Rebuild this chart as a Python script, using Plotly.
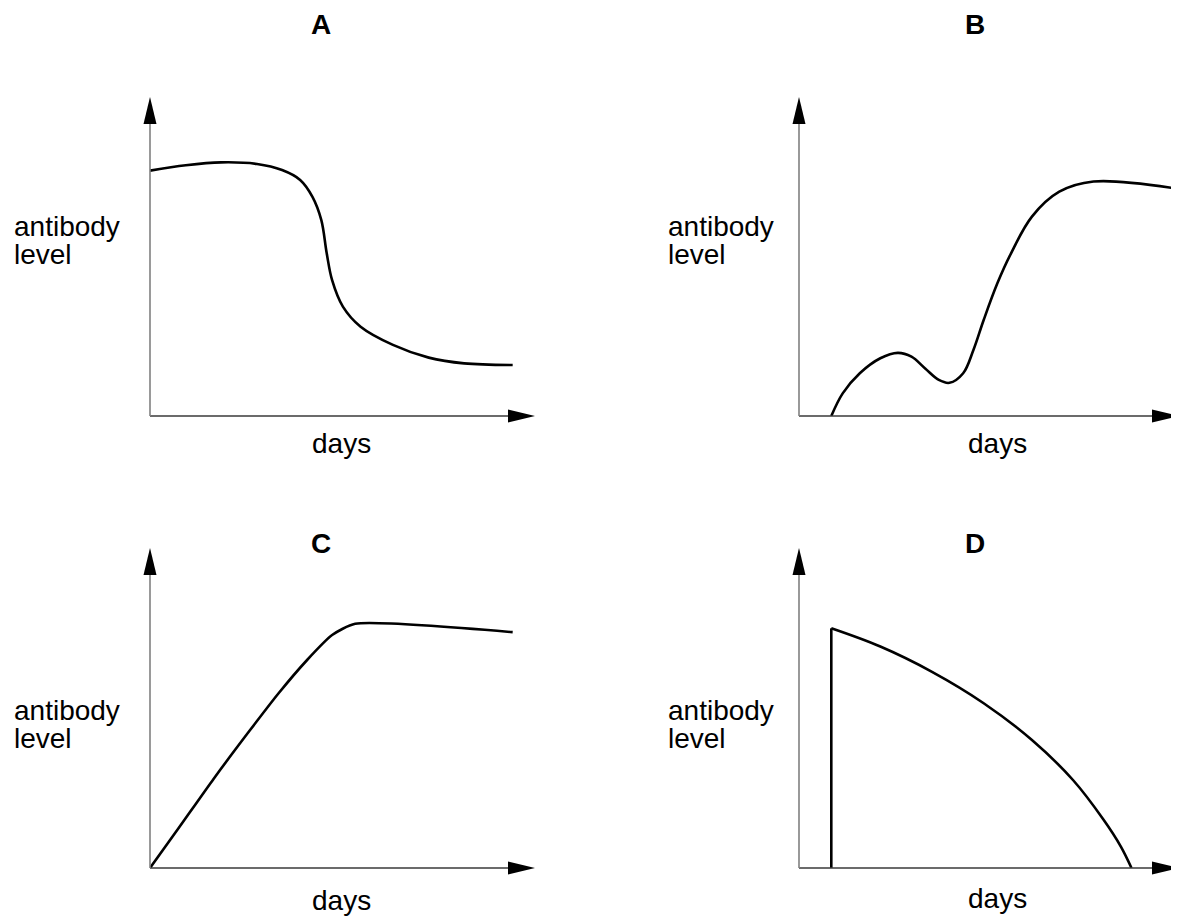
import plotly.graph_objects as go

# The page body adds an 8px margin, so the figure is sized to fill the rest of the window
# and every pixel anchor below is given in window pixels, then shifted by that margin.
PAGE_OFFSET = 8
FIG_W, FIG_H = 1179 - PAGE_OFFSET, 916 - PAGE_OFFSET
FONT = "Liberation Sans, Arial, Helvetica, sans-serif"

# Arbitrary units: days run 0-10 up to the x arrow tip, level 0-10 up to the y arrow tip.
A_DAYS = [0, 0.93, 1.85, 2.78, 3.43, 3.90, 4.22, 4.45, 4.59, 4.73, 5.01, 5.47, 6.31, 7.24, 8.16, 9.42]
A_LEVEL = [7.69, 7.86, 7.95, 7.90, 7.71, 7.40, 6.87, 6.14, 5.10, 4.26, 3.43, 2.80, 2.23, 1.83, 1.65, 1.60]

B_DAYS = [0.85, 1.15, 1.60, 2.14, 2.60, 2.96, 3.32, 3.68, 3.96, 4.32, 4.59, 4.86, 5.22, 5.58, 6.13, 6.85, 7.75, 9.88]
B_LEVEL = [0, 0.71, 1.34, 1.81, 1.98, 1.86, 1.49, 1.13, 1.04, 1.34, 2.07, 3.01, 4.16, 5.10, 6.25, 7.03, 7.35, 7.14]

C_DAYS = [0, 0.74, 1.66, 2.60, 3.34, 4.08, 4.73, 5.33, 9.42]
C_LEVEL = [0, 1.24, 2.80, 4.31, 5.46, 6.50, 7.28, 7.63, 7.37]

D_DAYS = [0.85, 2.14, 3.50, 4.86, 6.13, 7.21, 8.02, 8.47, 8.75]
D_LEVEL = [7.49, 6.92, 6.13, 5.15, 4.00, 2.75, 1.50, 0.67, 0]

PANEL_NAMES = ["A", "B", "C", "D"]
X_LABEL = "days"
Y_LABEL_LINES = ["antibody", "level"]

# window-pixel frame of each panel: x origin, x arrow tip, y arrow tip, y origin
_FRAMES = {
    "A": (150, 535, 97, 416),
    "B": (799, 1179, 97, 416),
    "C": (150, 535, 548, 868),
    "D": (799, 1179, 548, 868),
}
# window-pixel anchors: title centre, "days" centre, label left edge + first/second line centre
_TEXT_POS = {
    "A": ((321, 25), (341, 443), (12, 227, 255)),
    "B": ((975, 25), (997, 443), (666, 227, 255)),
    "C": ((321, 543), (341, 900), (12, 710, 738)),
    "D": ((975, 543), (997, 898), (666, 710, 738)),
}
# C has a near-corner at its peak, so it gets less spline smoothing
_SMOOTHING = {"A": 1.0, "B": 1.0, "C": 0.6, "D": 1.0}

_HEAD_LEN = 27  # px
_HEAD_HALF = 6.5  # px
_CURVE = dict(color="black", width=2.6)


def _px(x, y):
    return (x - PAGE_OFFSET) / FIG_W, 1 - (y - PAGE_OFFSET) / FIG_H


def _axis_shapes(n, frame):
    """Axis lines plus filled arrowheads, in domain coordinates of subplot n."""
    x0, x1, y1, y0 = frame
    w, h = x1 - x0, y0 - y1
    xr, yr = f"x{n} domain", f"y{n} domain"
    lx, hx = _HEAD_LEN / w, _HEAD_HALF / w
    ly, hy = _HEAD_LEN / h, _HEAD_HALF / h
    return [
        dict(type="line", xref=xr, yref=yr, x0=0, y0=0, x1=1 - lx, y1=0,
             line=dict(color="#3a3a3a", width=1.5)),
        dict(type="line", xref=xr, yref=yr, x0=0, y0=0, x1=0, y1=1 - ly,
             line=dict(color="#808080", width=1.6)),
        dict(type="path", xref=xr, yref=yr,
             path=f"M1,0 L{1 - lx},{hy} L{1 - lx},{-hy} Z",
             fillcolor="black", line=dict(width=0)),
        dict(type="path", xref=xr, yref=yr,
             path=f"M0,1 L{hx},{1 - ly} L{-hx},{1 - ly} Z",
             fillcolor="black", line=dict(width=0)),
    ]


def _texts(name):
    (tx, ty), (dx, dy), (lx, ly1, ly2) = _TEXT_POS[name]
    font = dict(family=FONT, size=28, color="black")
    out = []
    x, y = _px(tx, ty)
    out.append(dict(text=f"<b>{name}</b>", x=x, y=y, xanchor="center", yanchor="middle", font=font))
    x, y = _px(dx, dy)
    out.append(dict(text=X_LABEL, x=x, y=y, xanchor="center", yanchor="middle", font=font))
    for line, ly in zip(Y_LABEL_LINES, (ly1, ly2)):
        x, y = _px(lx, ly)
        out.append(dict(text=line, x=x, y=y, xanchor="left", yanchor="middle", font=font))
    for a in out:
        a.update(xref="paper", yref="paper", showarrow=False)
    return out


fig = go.Figure()

series = {
    "A": (A_DAYS, A_LEVEL),
    "B": (B_DAYS, B_LEVEL),
    "C": (C_DAYS, C_LEVEL),
    "D": (D_DAYS, D_LEVEL),
}

shapes, annotations = [], []
for i, name in enumerate(PANEL_NAMES, start=1):
    x0, x1, y1, y0 = _FRAMES[name]
    dx0, dy0 = _px(x0, y0)
    dx1, dy1 = _px(x1, y1)
    suffix = "" if i == 1 else str(i)
    fig.update_layout(**{
        f"xaxis{suffix}": dict(domain=[dx0, min(dx1, 1.0)], range=[0, 10], visible=False,
                               fixedrange=True, anchor=f"y{suffix}"),
        f"yaxis{suffix}": dict(domain=[dy0, dy1], range=[0, 10], visible=False,
                               fixedrange=True, anchor=f"x{suffix}"),
    })
    days, level = series[name]
    xa, ya = f"x{suffix}", f"y{suffix}"
    if name == "D":
        # the level jumps straight up on the first day shown
        fig.add_trace(go.Scatter(x=[days[0], days[0]], y=[0, level[0]], mode="lines",
                                 line=_CURVE, xaxis=xa, yaxis=ya, hoverinfo="skip"))
    fig.add_trace(go.Scatter(x=days, y=level, mode="lines",
                             line=dict(_CURVE, shape="spline", smoothing=_SMOOTHING[name]),
                             xaxis=xa, yaxis=ya, hoverinfo="skip"))
    shapes += _axis_shapes(suffix, _FRAMES[name])
    annotations += _texts(name)

fig.update_layout(
    width=FIG_W,
    height=FIG_H,
    margin=dict(l=0, r=0, t=0, b=0),
    paper_bgcolor="white",
    plot_bgcolor="white",
    showlegend=False,
    shapes=shapes,
    annotations=annotations,
)

fig.write_html("out.html")
